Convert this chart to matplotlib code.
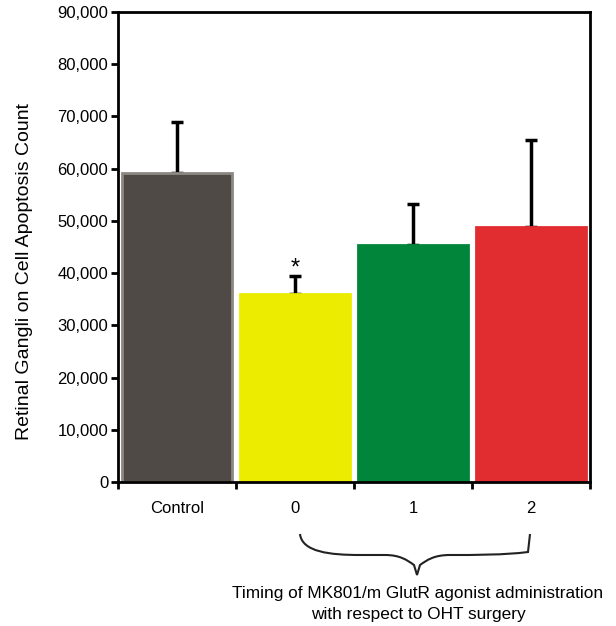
import matplotlib.pyplot as plt
import numpy as np
from matplotlib.path import Path
from matplotlib.patches import PathPatch

plt.rcParams['font.family'] = ['Liberation Sans', 'DejaVu Sans']

categories = ['Control', '0', '1', '2']
counts = [59200, 36000, 45400, 48800]
errors = [9800, 3400, 7800, 16700]
colors = ['#4f4a46', '#ecec00', '#00853a', '#e12c30']
edges = ['#8c8884', '#ecec00', '#00853a', '#e12c30']

W, H = 616, 626
fig = plt.figure(figsize=(W / 100, H / 100), dpi=100)
ax = fig.add_axes([118 / W, 1 - 482 / H, (590 - 118) / W, (482 - 12) / H])

x = np.arange(len(categories))
ax.bar(x, counts, width=0.93, color=colors, edgecolor=edges, linewidth=2, zorder=2)
ax.errorbar(x, counts, yerr=[np.zeros(len(errors)), errors], fmt='none',
            ecolor='black', elinewidth=2.5, capsize=4, capthick=2.5, zorder=1)
# significance marker above the 0-day group
ax.text(x[1], counts[1] + errors[1] + 300, '*', ha='center', va='baseline', fontsize=17)

ax.set_xlim(-0.5, 3.5)
ax.set_ylim(0, 90000)
ax.set_yticks(np.arange(0, 90001, 10000))
ax.set_yticklabels([f'{v:,}' for v in range(0, 90001, 10000)], fontsize=12)
ax.set_xticks(x)
ax.set_xticklabels(categories, fontsize=12)
ax.set_xticks(np.arange(-0.5, 3.6, 1), minor=True)
ax.tick_params(axis='x', which='major', length=0, pad=14)
ax.tick_params(axis='x', which='minor', length=5, width=2, direction='out')
ax.tick_params(axis='y', length=5, width=2, direction='out', pad=2)
for s in ax.spines.values():
    s.set_linewidth(2)

ax.set_ylabel('Retinal Gangli on Cell Apoptosis Count', fontsize=14)
ax.yaxis.set_label_coords((33 - 118) / 472, (482 - 272) / 470)

# curly brace under groups 0-2
def px(xp, yp):
    return (xp / W, 1 - yp / H)

verts = [px(300, 534), px(302, 552), px(330, 555), px(360, 555),
         px(385, 555), px(400, 555), px(407, 560),
         px(414, 565), px(417, 575), px(417, 575),
         px(417, 575), px(420, 565), px(427, 560),
         px(434, 555), px(450, 555), px(475, 555),
         px(505, 555), px(528, 552), px(530, 534)]
codes = [Path.MOVETO] + [Path.CURVE4] * 3 + [Path.LINETO] + [Path.CURVE4] * 6 + [Path.LINETO] \
        + [Path.CURVE4] * 2 + [Path.LINETO] + [Path.CURVE4] * 3 + [Path.LINETO]
codes = codes[:len(verts)]
brace = PathPatch(Path(verts, codes), transform=fig.transFigure, fill=False,
                  edgecolor='#222222', linewidth=1.5)
fig.patches.append(brace)

fig.text(418 / W, 1 - 604 / H, 'Timing of MK801/m GlutR agonist administration\nwith respect to OHT surgery',
         ha='center', va='center', fontsize=12.4, linespacing=1.45)

fig.savefig('out.png', dpi=100)
